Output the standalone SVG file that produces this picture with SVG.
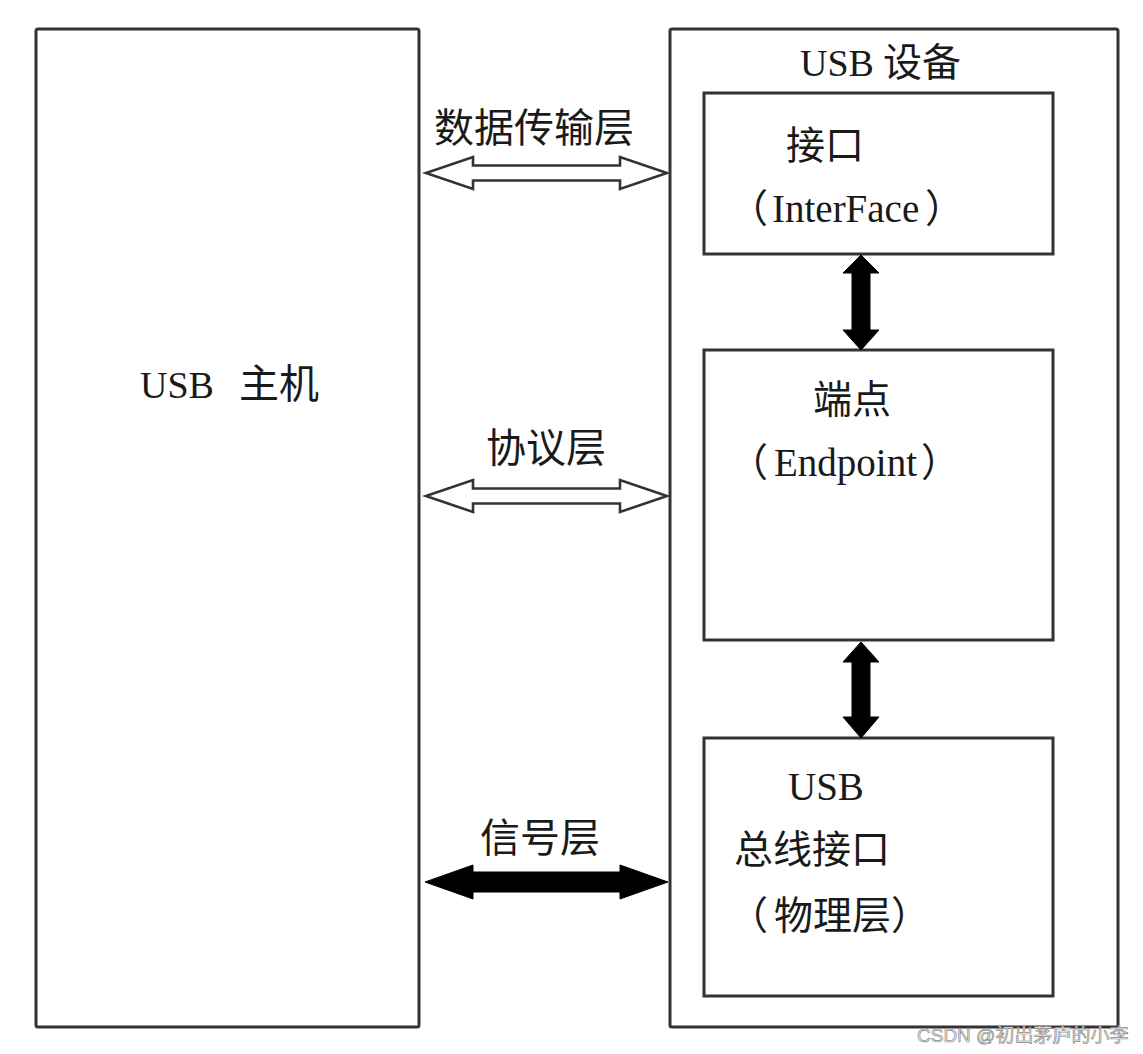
<svg xmlns="http://www.w3.org/2000/svg" width="1143" height="1054" viewBox="0 0 1143 1054">
<style>
.box{fill:#fff;stroke:#333;stroke-width:3}
.t{font-family:"Liberation Serif","Noto Sans CJK SC",serif;font-size:39px;fill:#1a1a1a}
.c{font-family:"Noto Sans CJK SC",sans-serif;font-size:39px;fill:#1a1a1a}
.hollow{fill:#fff;stroke:#333;stroke-width:2.6;stroke-linejoin:miter}
.solid{fill:#000;stroke:#000;stroke-width:1}
.wm{font-family:"Liberation Sans","Noto Sans CJK SC",sans-serif;font-size:19px;fill:#f0f0f0;stroke:#8a8a8a;stroke-width:0.7}
</style>
<rect width="1143" height="1054" fill="#fff"/>
<g id="host">
<rect class="box" x="36" y="29" width="383" height="998" rx="2"/>
<text class="t" x="140" y="398" style="font-size:38px">USB <tspan class="c" x="239" style="font-size:40px">主机</tspan></text>
</g>
<g id="device">
<rect class="box" x="670" y="29" width="448" height="998" rx="2"/>
<text class="t" x="800" y="76" style="font-size:38px">USB <tspan class="c" x="883">设备</tspan></text>
</g>
<g id="interface">
<rect class="box" x="704" y="93" width="349" height="161"/>
<text class="c" x="786" y="159">接口</text>
<text class="t" x="729" y="222">（<tspan x="772">InterFace</tspan><tspan x="925">）</tspan></text>
</g>
<g id="endpoint">
<rect class="box" x="704" y="350" width="349" height="290"/>
<text class="c" x="813" y="413">端点</text>
<text class="t" x="729" y="476">（<tspan x="774">Endpoint</tspan><tspan x="921">）</tspan></text>
</g>
<g id="physical">
<rect class="box" x="704" y="738" width="349" height="258"/>
<text class="t" x="788" y="800">USB</text>
<text class="c" x="734" y="863">总线接口</text>
<text class="c" x="729" y="929">（<tspan x="774">物理层</tspan><tspan x="891">）</tspan></text>
</g>
<g id="labels">
<text class="c" x="434" y="142" style="font-size:40px">数据传输层</text>
<text class="c" x="486" y="462" style="font-size:40px">协议层</text>
<text class="c" x="480" y="852" style="font-size:40px">信号层</text>
</g>
<g id="connectors">
<polygon class="hollow" points="426,173 473,157 473,165.5 620,165.5 620,157 667,173 620,189 620,180.5 473,180.5 473,189"/>
<polygon class="hollow" points="426,496 473,480 473,488.5 620,488.5 620,480 667,496 620,512 620,503.5 473,503.5 473,512"/>
<polygon class="solid" points="425,882 473,865 473,872 620,872 620,865 668,882 620,899 620,892 473,892 473,899"/>
<polygon class="solid" points="861,255 879,273 870,273 870,330 879,330 861,350 843,330 852,330 852,273 843,273"/>
<polygon class="solid" points="861,642 879,662 870,662 870,717 879,717 861,738 843,717 852,717 852,662 843,662"/>
</g>
<text class="wm" x="917" y="1042">CSDN @初出茅庐的小李</text>
</svg>
